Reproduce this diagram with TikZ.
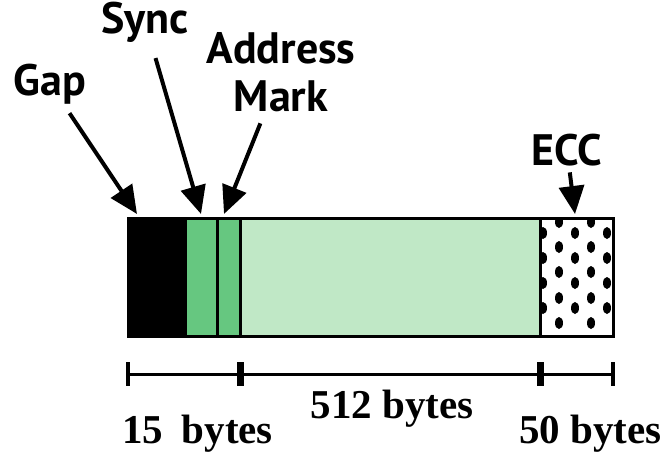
\documentclass[tikz,border=0pt]{standalone}
\usepackage{fontspec}
\usetikzlibrary{arrows.meta,positioning}
\newfontfamily\lblfont{PT Sans}
\newfontfamily\dimfont{Liberation Serif}
\definecolor{syncgreen}{RGB}{102,199,128}
\definecolor{datagreen}{RGB}{192,232,198}
\tikzset{
  seg/.style={draw=black, line width=1.5pt, minimum height=59pt, inner sep=0pt, outer sep=0pt, anchor=north west},
  lbl/.style={font=\lblfont\bfseries\fontsize{22}{24}\selectfont, align=center, inner sep=1pt},
  dimlbl/.style={font=\dimfont\bfseries\fontsize{20.5}{21}\selectfont, inner sep=0pt},
  pointer/.style={-{Triangle[length=14pt, width=12.5pt]}, line width=2pt},
  dimline/.style={line width=1.5pt},
  endtick/.style={line width=2pt},
  midtick/.style={line width=3.5pt}
}
\begin{document}
\begin{tikzpicture}[x=0.5pt, y=-0.5pt]
  \useasboundingbox (0,0) rectangle (667,456);
  % sector layout
  \node[seg, fill=black, minimum width=28.5pt] (gap) at (128,218) {};
  \node[seg, fill=syncgreen, minimum width=16pt, right=0pt of gap.north east, anchor=north west] (sync) {};
  \node[seg, fill=syncgreen, minimum width=11.5pt, right=0pt of sync.north east, anchor=north west] (am) {};
  \node[seg, fill=datagreen, minimum width=150pt, right=0pt of am.north east, anchor=north west] (data) {};
  \node[seg, fill=white, minimum width=36.5pt, right=0pt of data.north east, anchor=north west] (ecc) {};
  \begin{scope}
    \clip (ecc.north west) rectangle (ecc.south east);
    \foreach \x in {543,575,607}
      \foreach \y in {233,258,283,308}
        \fill (\x,\y) ellipse [x radius=4, y radius=6];
    \foreach \x in {559,591}
      \foreach \y in {222,247,272,298,323}
        \fill (\x,\y) ellipse [x radius=4, y radius=6];
  \end{scope}
  \draw[line width=1.5pt] (ecc.north west) rectangle (ecc.south east);

  % field labels
  \node[lbl] (gaplbl) at (50,84) {Gap};
  \node[lbl] (synclbl) at (145,22) {Sync};
  \node[lbl] (amlbl) at (281,72) {Address\\Mark};
  \node[lbl] (ecclbl) at (567,150) {ECC};
  \coordinate (gaptip) at (137,214);
  \coordinate (synctip) at (201,214);
  \coordinate (amtip) at (224,214);
  \coordinate (ecctip) at (575,214);
  \draw[pointer, shorten <=4pt] (gaplbl) -- (gaptip);
  \draw[pointer, shorten <=7pt] (synclbl) -- (synctip);
  \draw[pointer, shorten <=5pt] (amlbl) -- (amtip);
  \draw[pointer, shorten <=2pt] (ecclbl) -- (ecctip);

  % sizes
  \coordinate (d0) at (128,374);
  \coordinate (d1) at (240,374);
  \coordinate (d2) at (540,374);
  \coordinate (d3) at (613,374);
  \draw[dimline] (d0) -- (d3);
  \draw[endtick] (d0) ++(0,-12) -- ++(0,24);
  \draw[endtick] (d3) ++(0,-12) -- ++(0,24);
  \draw[midtick] (d1) ++(0,-12) -- ++(0,24);
  \draw[midtick] (d2) ++(0,-12) -- ++(0,24);
  \node[dimlbl, anchor=base west] (small) at (122,443) {15\hspace{0.45em}bytes};
  \node[dimlbl, anchor=base] (big) at (392,418) {512 bytes};
  \node[dimlbl, anchor=base west] (ecclen) at (519,443) {50 bytes};
\end{tikzpicture}
\end{document}
